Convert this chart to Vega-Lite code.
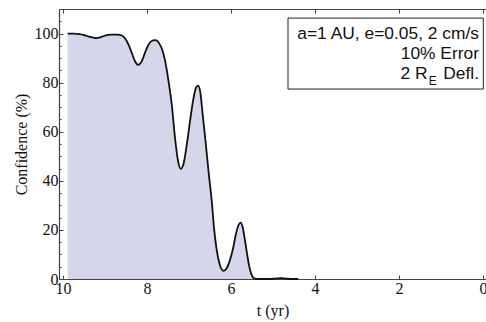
{
  "$schema": "https://vega.github.io/schema/vega-lite/v6.json",
  "width": 427,
  "height": 270,
  "autosize": {"type": "none"},
  "padding": {"left": 59, "top": 9, "right": 0, "bottom": 43},
  "background": "white",
  "config": {"view": {"stroke": null}},
  "datasets": {
    "curve": [
      {"t": 9.89, "c": 100}, {"t": 9.75, "c": 100}, {"t": 9.6, "c": 99.8}, {"t": 9.45, "c": 99.1},
      {"t": 9.3, "c": 98.4}, {"t": 9.2, "c": 98.1}, {"t": 9.1, "c": 98.5}, {"t": 8.98, "c": 99.3},
      {"t": 8.85, "c": 99.6}, {"t": 8.7, "c": 99.6}, {"t": 8.6, "c": 99.2}, {"t": 8.52, "c": 98},
      {"t": 8.44, "c": 95.5}, {"t": 8.36, "c": 92}, {"t": 8.28, "c": 88.5}, {"t": 8.21, "c": 87.2},
      {"t": 8.13, "c": 88.5}, {"t": 8.04, "c": 92.5}, {"t": 7.95, "c": 95.8}, {"t": 7.86, "c": 97.2},
      {"t": 7.79, "c": 97.3}, {"t": 7.71, "c": 96}, {"t": 7.64, "c": 93.5}, {"t": 7.57, "c": 89},
      {"t": 7.5, "c": 82}, {"t": 7.41, "c": 71}, {"t": 7.33, "c": 57}, {"t": 7.26, "c": 48},
      {"t": 7.2, "c": 44.9}, {"t": 7.13, "c": 47}, {"t": 7.05, "c": 55}, {"t": 6.97, "c": 65},
      {"t": 6.9, "c": 73}, {"t": 6.83, "c": 78}, {"t": 6.78, "c": 78.8}, {"t": 6.73, "c": 76},
      {"t": 6.68, "c": 68}, {"t": 6.6, "c": 55}, {"t": 6.53, "c": 43}, {"t": 6.46, "c": 32},
      {"t": 6.4, "c": 20}, {"t": 6.34, "c": 11.8}, {"t": 6.27, "c": 6}, {"t": 6.18, "c": 3.3},
      {"t": 6.1, "c": 4.5}, {"t": 6.02, "c": 8}, {"t": 5.95, "c": 12.5}, {"t": 5.88, "c": 18.5},
      {"t": 5.82, "c": 22}, {"t": 5.77, "c": 23}, {"t": 5.72, "c": 21}, {"t": 5.67, "c": 16},
      {"t": 5.62, "c": 10.5}, {"t": 5.57, "c": 5.5}, {"t": 5.52, "c": 2.2}, {"t": 5.47, "c": 0.5},
      {"t": 5.4, "c": 0}, {"t": 5.1, "c": 0}, {"t": 4.95, "c": 0.15}, {"t": 4.8, "c": 0.35},
      {"t": 4.68, "c": 0.15}, {"t": 4.55, "c": 0}, {"t": 4.4, "c": 0}
    ],
    "box": [{"t1": 4.643, "t2": -0.007, "c1": 106.3, "c2": 77.4}],
    "right": [
      {"t": 0.095, "c": 99.8, "txt": "a=1 AU, e=0.05, 2 cm/s"},
      {"t": 0.095, "c": 91.6, "txt": "10% Error"},
      {"t": 0.095, "c": 83.5, "txt": "Defl."},
      {"t": 1.32, "c": 83.5, "txt": "2 R"}
    ],
    "sub": [{"t": 1.293, "c": 80.6, "txt": "E"}]
  },
  "resolve": {"axis": {"x": "independent", "y": "independent"}},
  "layer": [
    {
      "data": {"name": "curve"},
      "mark": {"type": "area", "interpolate": "monotone", "fill": "#d6d6ea", "opacity": 1},
      "encoding": {
        "x": {"field": "t", "type": "quantitative",
          "scale": {"domain": [-0.071, 10.095], "reverse": true, "nice": false, "zero": false},
          "axis": {"orient": "bottom", "values": [10, 8, 6, 4, 2, 0], "format": "d", "grid": false,
            "tickSize": -4, "tickColor": "#444", "domainColor": "#444", "domainWidth": 1.2,
            "labelPadding": 5, "labelFont": "Liberation Serif", "labelFontSize": 16, "labelColor": "#111",
            "labelFlush": false, "labelOverlap": false,
            "title": "t (yr)", "titleFont": "Liberation Serif", "titleFontSize": 16,
            "titleFontWeight": "normal", "titleColor": "#111", "titlePadding": 6}},
        "y": {"field": "c", "type": "quantitative",
          "scale": {"domain": [0, 110], "nice": false},
          "axis": {"orient": "left", "values": [0, 20, 40, 60, 80, 100], "grid": false,
            "tickSize": -4, "tickColor": "#444", "domainColor": "#444", "domainWidth": 1.2,
            "labelPadding": 5, "labelFont": "Liberation Serif", "labelFontSize": 16, "labelColor": "#111",
            "title": "Confidence (%)", "titleFont": "Liberation Serif", "titleFontSize": 16,
            "titleFontWeight": "normal", "titleColor": "#111", "titlePadding": 5}}
      }
    },
    {
      "data": {"name": "curve"},
      "mark": {"type": "line", "interpolate": "monotone", "stroke": "#111", "strokeWidth": 1.8},
      "encoding": {
        "x": {"field": "t", "type": "quantitative",
          "axis": {"orient": "top", "values": [10, 8, 6, 4, 2, 0], "labels": false, "grid": false,
            "tickSize": -4, "tickColor": "#444", "domainColor": "#444", "domainWidth": 1.2, "title": null}},
        "y": {"field": "c", "type": "quantitative",
          "axis": {"orient": "left", "values": [5, 10, 15, 25, 30, 35, 45, 50, 55, 65, 70, 75, 85, 90, 95, 105],
            "labels": false, "grid": false, "domain": false, "tickSize": -2, "tickColor": "#444", "title": null}}
      }
    },
    {
      "data": {"name": "box"},
      "mark": {"type": "rect", "fill": "white", "stroke": "#222", "strokeWidth": 1},
      "encoding": {
        "x": {"field": "t1", "type": "quantitative", "axis": null},
        "x2": {"field": "t2"},
        "y": {"field": "c1", "type": "quantitative", "axis": null},
        "y2": {"field": "c2"}
      }
    },
    {
      "data": {"name": "right"},
      "mark": {"type": "text", "font": "Liberation Sans", "fontSize": 17.4, "color": "#111", "baseline": "middle", "align": "right"},
      "encoding": {
        "x": {"field": "t", "type": "quantitative", "axis": null},
        "y": {"field": "c", "type": "quantitative", "axis": null},
        "text": {"field": "txt"}
      }
    },
    {
      "data": {"name": "sub"},
      "mark": {"type": "text", "font": "Liberation Sans", "fontSize": 12, "color": "#111", "baseline": "middle", "align": "left"},
      "encoding": {
        "x": {"field": "t", "type": "quantitative", "axis": null},
        "y": {"field": "c", "type": "quantitative", "axis": null},
        "text": {"field": "txt"}
      }
    }
  ]
}
